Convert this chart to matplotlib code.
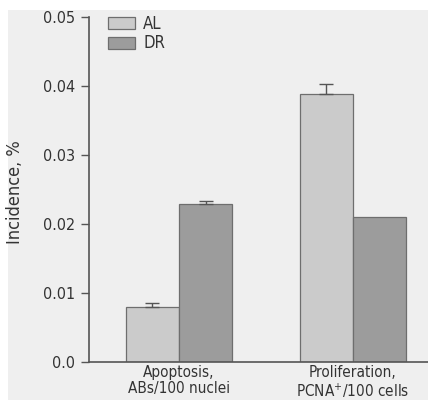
import matplotlib
matplotlib.use("Agg")
import matplotlib.pyplot as plt
from matplotlib.patches import Rectangle
import numpy as np

plt.rcParams['font.family'] = ['DejaVu Sans']
plt.rcParams['font.stretch'] = 'condensed'

groups = ["Apoptosis,\nABs/100 nuclei", "Proliferation,\nPCNA$^{+}$/100 cells"]
series = ["AL", "DR"]
al_vals = [0.0080, 0.0388]
al_err = [0.0006, 0.0015]
dr_vals = [0.0229, 0.0210]
dr_err = [0.0004, 0.0]

fig = plt.figure(figsize=(4.28, 4.0), dpi=100)
fig.patch.set_facecolor("white")
# scanned page tint
fig.patches.append(Rectangle((8/428, 0), 1, 1 - 10/400, transform=fig.transFigure,
                             facecolor="#efefef", edgecolor="none", zorder=-10))

ax = fig.add_axes([89/428, 38/400, 1 - 89/428, (362 - 17)/400])
ax.set_facecolor("none")

x = np.arange(len(groups))
w = 0.305
edge = "#6e6e6e"
ax.bar(x - w/2, al_vals, w, color="#cbcbcb", edgecolor=edge, linewidth=0.9, label=series[0])
ax.bar(x + w/2, dr_vals, w, color="#9c9c9c", edgecolor=edge, linewidth=0.9, label=series[1])
for xs, v, e in zip(list(x - w/2) + list(x + w/2), al_vals + dr_vals, al_err + dr_err):
    if e > 0:
        ax.errorbar(xs, v, yerr=[[0], [e]], fmt="none", ecolor="#555555",
                    elinewidth=1.0, capsize=5, capthick=1.0)

ax.set_xlim(-0.517, 1.431)
ax.set_ylim(0, 0.05)
ax.set_yticks([0.0, 0.01, 0.02, 0.03, 0.04, 0.05])
ax.set_yticklabels(["0.0", "0.01", "0.02", "0.03", "0.04", "0.05"])
ax.set_xticks(x)
ax.set_xticklabels(groups, fontsize=11, color="#333333", linespacing=1.1)
ax.tick_params(axis="x", length=0, pad=2)
ax.tick_params(axis="y", length=6, width=1, colors="#555555", labelcolor="#333333",
               labelsize=11.5, direction="out", pad=4)
for s in ["top", "right"]:
    ax.spines[s].set_visible(False)
for s in ["left", "bottom"]:
    ax.spines[s].set_color("#555555")
    ax.spines[s].set_linewidth(1.2)

fig.text(15/428, 0.52, "Incidence, %", rotation=90, ha="center", va="center",
         fontsize=13, color="#333333")

ax.legend(loc="upper left", bbox_to_anchor=(0.012, 1.05), frameon=False, fontsize=12,
          handlelength=1.6, handleheight=0.75, labelspacing=0.1, handletextpad=0.5,
          labelcolor="#333333")

fig.savefig("out.png", dpi=100)
